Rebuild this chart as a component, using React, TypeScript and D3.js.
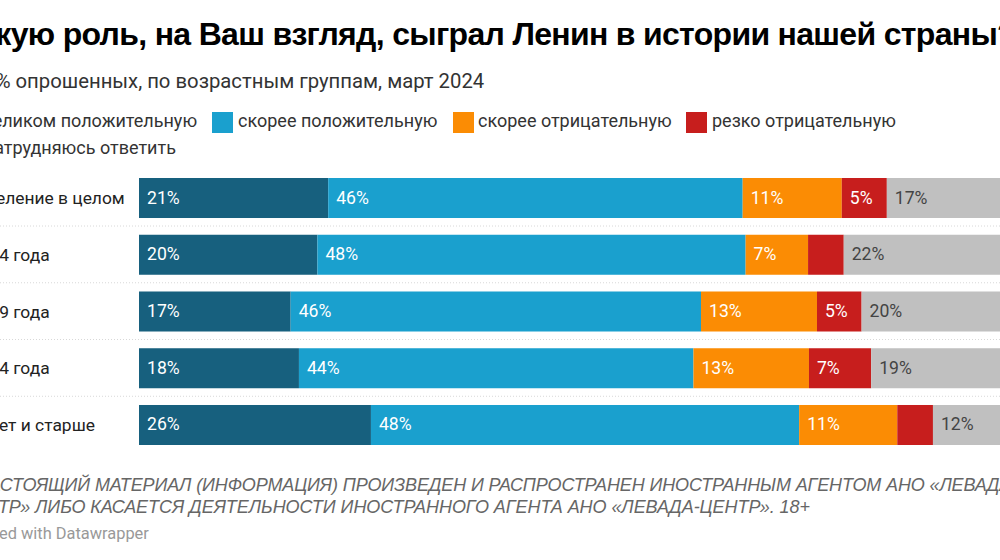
import * as d3 from "d3";

const title = "Какую роль, на Ваш взгляд, сыграл Ленин в истории нашей страны?";
const subtitle = "В % опрошенных, по возрастным группам, март 2024";
const noteLines = [
  "НАСТОЯЩИЙ МАТЕРИАЛ (ИНФОРМАЦИЯ) ПРОИЗВЕДЕН И РАСПРОСТРАНЕН ИНОСТРАННЫМ АГЕНТОМ АНО «ЛЕВАДА-",
  "ЦЕНТР» ЛИБО КАСАЕТСЯ ДЕЯТЕЛЬНОСТИ ИНОСТРАННОГО АГЕНТА АНО «ЛЕВАДА-ЦЕНТР». 18+",
];
const credit = "Created with Datawrapper";

const groups = ["Население в целом", "18-24 года", "25-39 года", "40-54 года", "55 лет и старше"];
const seriesNames = [
  "целиком положительную",
  "скорее положительную",
  "скорее отрицательную",
  "резко отрицательную",
  "затрудняюсь ответить",
];
const colors = ["#17607e", "#1aa0ce", "#fb8c04", "#c71e1d", "#c0c0c0"];
const labelColors = ["#ffffff", "#ffffff", "#ffffff", "#ffffff", "#444444"];

const fullyPositive = [21, 20, 17, 18, 26];
const ratherPositive = [46, 48, 46, 44.4, 48];
const ratherNegative = [11, 7, 13, 13, 11];
const stronglyNegative = [5, 4, 5, 7, 4];
const hardToSay = [17, 22, 20, 19, 12];
const seriesValues = [fullyPositive, ratherPositive, ratherNegative, stronglyNegative, hardToSay];

const minLabelled = 5;

const rows = groups.map((g, i) => {
  const row: Record<string, any> = { group: g };
  seriesNames.forEach((s, k) => (row[s] = seriesValues[k][i]));
  return row;
});

const App = () => {
  const width = 1000;
  const height = 560;

  // bars run off the right side of the picture, same as the original crop
  const x = d3.scaleLinear().domain([0, 1]).range([139, 1040]);
  const y = d3.scaleBand().domain(groups).range([178, 445]).paddingInner(0.295);
  const stacked = d3.stack().keys(seriesNames).offset(d3.stackOffsetExpand)(rows as any);

  const sans = "Roboto, sans-serif";
  const legendRow1 = [0, 1, 2, 3];

  return (
    <svg
      width={width}
      height={height}
      style={{ position: "absolute", left: 0, top: 0, background: "#fff" }}
      fontFamily={sans}
    >
      <text
        x={-41}
        y={45}
        fontFamily="'Liberation Sans', sans-serif"
        fontWeight={700}
        fontSize={32}
        letterSpacing={-0.68}
        fill="#000"
      >
        {title}
      </text>
      <text x={-22} y={88} fontSize={20.3} fill="#333">
        {subtitle}
      </text>

      {legendRow1.map((k) => {
        const lx = [-44, 212, 453, 686][k];
        return (
          <g key={k}>
            <rect x={lx} y={112} width={21} height={21} fill={colors[k]} />
            <text x={lx + (k === 2 ? 25 : 26)} y={127} fontSize={18} fill="#333">
              {seriesNames[k]}
            </text>
          </g>
        );
      })}
      <rect x={-41} y={138} width={21} height={21} fill={colors[4]} />
      <text x={-15} y={154} fontSize={18} fill="#333">
        {seriesNames[4]}
      </text>

      {groups.slice(0, -1).map((g) => (
        <line
          key={g}
          x1={0}
          x2={width}
          y1={y(g)! + y.bandwidth() + 8}
          y2={y(g)! + y.bandwidth() + 8}
          stroke="#d8d8d8"
          strokeDasharray="1 2"
        />
      ))}

      {groups.map((g) => (
        <text key={g} x={-35} y={y(g)! + y.bandwidth() / 2 + 6} fontSize={17.4} fill="#222">
          {g}
        </text>
      ))}

      {stacked.map((s, k) => (
        <g key={s.key}>
          {s.map((d, i) => (
            <g key={i}>
              <rect
                x={x(d[0])}
                y={y(groups[i])}
                width={x(d[1]) - x(d[0])}
                height={y.bandwidth()}
                fill={colors[k]}
              />
              {seriesValues[k][i] >= minLabelled && (
                <text
                  x={x(d[0]) + 8}
                  y={y(groups[i])! + y.bandwidth() / 2 + 5.5}
                  fontSize={17.6}
                  fill={labelColors[k]}
                >
                  {Math.round(seriesValues[k][i])}%
                </text>
              )}
            </g>
          ))}
        </g>
      ))}

      {noteLines.map((line, i) => (
        <text
          key={i}
          x={i === 0 ? -24 : -40}
          y={491 + i * 21.5}
          fontFamily="'Liberation Sans', sans-serif"
          fontStyle="italic"
          fontSize={18}
          letterSpacing={i === 0 ? -0.13 : -0.06}
          fill="#666"
        >
          {line}
        </text>
      ))}
      <text x={-40} y={539} fontSize={16.4} fill="#999">
        {credit}
      </text>
    </svg>
  );
};

export default App;
